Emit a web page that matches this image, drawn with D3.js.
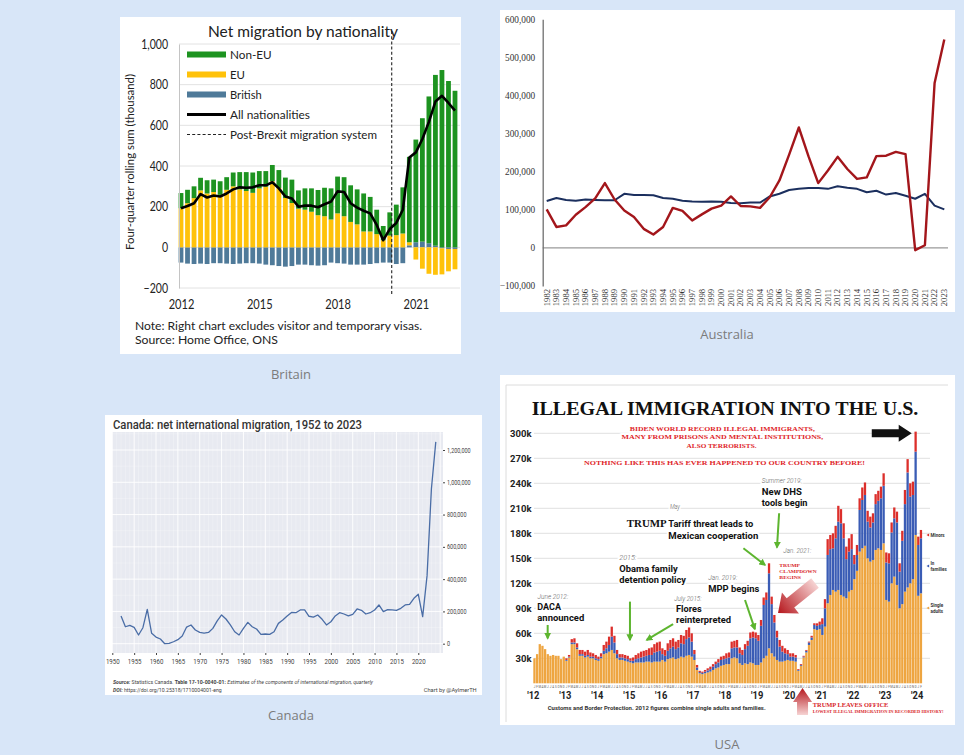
<!DOCTYPE html>
<html>
<head>
<meta charset="utf-8">
<script src="https://cdn.jsdelivr.net/npm/d3@7"></script>
<style>
  body { margin: 0; background: #d8e6f8; }
  svg { display: block; }
  .halo { paint-order: stroke; stroke: #fff; stroke-width: 4px; stroke-linejoin: round; }
</style>
</head>
<body>
<svg id="chart" width="964" height="755"></svg>
<script>
// ---------------- data ----------------
// Britain, quarterly from 2012, thousands
var ukTickIndex = [0, 12, 24, 36];
var ukTickLabels = ["2012", "2015", "2018", "2021"];
var ukYTicks = [-200, 0, 200, 400, 600, 800, 1000];
var ukNonEU = [75, 66, 58, 62, 65, 61, 67, 62, 68, 85, 93, 100, 85, 77, 80, 88, 100, 115, 90, 105, 115, 124, 140, 153, 181, 192, 180, 172, 187, 170, 120, 70, 114, 150, 227, 420, 505, 607, 722, 840, 872, 818, 770];
var ukEU = [192, 217, 242, 280, 265, 272, 258, 283, 300, 285, 277, 268, 290, 298, 325, 292, 243, 218, 190, 185, 175, 158, 153, 137, 167, 153, 125, 113, 78, 78, 65, 35, 58, 60, 68, 15, -60, -105, -130, -135, -128, -110, -100];
var ukBritish = [-75, -80, -82, -80, -82, -78, -78, -80, -82, -80, -78, -78, -80, -85, -88, -92, -95, -92, -85, -85, -88, -90, -88, -75, -78, -80, -85, -85, -85, -82, -78, -75, -75, -82, -78, 10, 25, 28, 20, 8, -5, -8, -8];
var ukAll = [192, 203, 217, 262, 245, 255, 250, 265, 285, 295, 293, 295, 305, 305, 320, 290, 250, 240, 200, 205, 205, 197, 212, 225, 275, 272, 217, 195, 180, 167, 110, 35, 90, 120, 185, 442, 467, 533, 617, 717, 745, 710, 672];

// Australia, yearly, thousands
var auYears = d3.range(1982, 2024);
var auYTicks = [-100, 0, 100, 200, 300, 400, 500, 600];
var auRed = [101, 55, 59, 87, 107, 130, 170, 127, 98, 81, 50, 35, 55, 105, 97, 72, 88, 103, 111, 135, 110, 109, 105, 133, 177, 245, 316, 240, 170, 203, 239, 207, 181, 185, 241, 242, 252, 246, -6, 7, 433, 547];
var auNavy = [123, 131, 126, 124, 127, 126, 125, 125, 142, 139, 139, 138, 131, 129, 124, 122, 121, 122, 121, 118, 117, 119, 119, 135, 142, 152, 155, 157, 157, 155, 162, 158, 155, 146, 150, 140, 144, 137, 129, 142, 111, 101];

// Canada, yearly 1952-2024, thousands
var caYears = d3.range(1952, 2025);
var caXTicks = d3.range(1950, 2021, 5);
var caYTicks = [0, 200, 400, 600, 800, 1000, 1200];
var caNet = [172, 105, 114, 101, 54, 99, 213, 64, 41, 29,
  0, 2, 12, 25, 48, 103, 116, 85, 70, 66,
  70, 95, 141, 178, 153, 116, 74, 54, 95, 132,
  105, 91, 58, 60, 58, 74, 126, 147, 172, 194,
  192, 209, 209, 170, 165, 178, 151, 116, 136, 172,
  192, 184, 172, 182, 215, 207, 184, 192, 209, 240,
  199, 211, 209, 207, 219, 240, 244, 281, 306, 168,
  420, 960, 1250];

// USA, monthly Jan 2012 - Feb 2024, thousands
var usYearLabels = ["'12", "'13", "'14", "'15", "'16", "'17", "'18", "'19", "'20", "'21", "'22", "'23", "'24"];
var usMonthLetters = "JFMAMJJASOND".split("");
var usYTicks = [30, 60, 90, 120, 150, 180, 210, 240, 270, 300];
var usSingle = [
  30, 35, 47, 45, 41, 35, 33, 34, 33, 33, 29, 32,
  27, 31, 47, 47, 41, 33, 33, 31, 32, 30, 30, 28,
  27, 30, 35, 36, 38, 40, 36, 30, 28, 28, 27, 26,
  25, 24, 25, 25, 25, 25, 26, 26, 25, 26, 26, 26,
  28, 26, 29, 30, 31, 29, 30, 32, 31, 33, 34, 32,
  28, 16, 12, 11, 12, 13, 14, 16, 18, 19, 21, 22,
  23, 23, 30, 31, 30, 24, 22, 24, 23, 25, 24, 22,
  22, 25, 30, 33, 42, 36, 32, 28, 26, 26, 27, 28,
  27, 27, 26, 15, 21, 31, 37, 46, 52, 65, 64, 65,
  58, 68, 96, 106, 112, 110, 112, 106, 104, 102, 110, 112,
  125, 135, 158, 162, 165, 150, 146, 148, 160, 162, 160, 168,
  100, 98, 120, 128, 118, 90, 95, 110, 115, 120, 125, 178,
  105, 108];
var usFamily = [
  0, 0, 0, 0, 0, 0, 0, 0, 0, 0, 0, 0,
  1, 1, 2, 2, 2, 2, 2, 2, 2, 2, 2, 2,
  2, 2, 4, 6, 8, 16, 13, 5, 3, 3, 3, 3,
  2, 3, 4, 5, 6, 7, 7, 8, 9, 11, 12, 13,
  7, 7, 10, 12, 13, 12, 13, 16, 16, 20, 21, 18,
  7, 3, 1.5, 1.5, 2, 2.5, 3, 4, 5, 6, 7, 7,
  7, 8, 12, 12, 13, 12, 12, 17, 22, 29, 31, 32,
  29, 44, 64, 67, 90, 59, 41, 27, 18, 12, 9, 7,
  5, 5, 5, 1, 1, 1, 2, 3, 3, 5, 5, 5,
  13, 22, 58, 55, 50, 64, 82, 86, 70, 47, 48, 49,
  18, 19, 50, 58, 61, 44, 41, 45, 55, 57, 62, 69,
  45, 46, 61, 70, 75, 44, 76, 105, 138, 104, 101, 100,
  61, 66];
var usMinors = [
  0, 0, 0, 0, 0, 0, 0, 0, 0, 0, 0, 0,
  2, 2, 4, 5, 5, 5, 5, 5, 6, 5, 4, 4,
  3, 4, 7, 8, 10, 12, 8, 5, 4, 4, 4, 4,
  3, 4, 5, 6, 7, 7, 7, 8, 9, 10, 11, 11,
  7, 7, 9, 10, 10, 9, 9, 10, 10, 11, 12, 10,
  5, 3, 1.5, 1.5, 2, 2.5, 3, 3, 3, 4, 4, 4,
  6, 6, 8, 8, 9, 7, 6, 6, 6, 7, 7, 7,
  7, 7, 9, 9, 12, 9, 9, 8, 8, 7, 6, 5,
  4, 4, 3, 1, 1, 1, 1, 1, 2, 2, 3, 4,
  7, 11, 19, 17, 18, 15, 19, 17, 18, 15, 16, 18,
  11, 12, 14, 15, 15, 13, 13, 11, 12, 12, 14, 15,
  12, 12, 12, 13, 13, 10, 12, 17, 16, 16, 16, 24,
  10, 10];

// annotations placed in data units (month index, thousands)
var usHead = [
  {t: "BIDEN WORLD RECORD ILLEGAL IMMIGRANTS,", m: 71, v: 302.8, w: 185},
  {t: "MANY FROM PRISONS AND MENTAL INSTITUTIONS,", m: 71, v: 292.8, w: 201.7},
  {t: "ALSO TERRORISTS.", m: 70.7, v: 282.7, w: 70},
  {t: "NOTHING LIKE THIS HAS EVER HAPPENED TO OUR COUNTRY BEFORE!", m: 71.8, v: 262, w: 281}
];
var usNotes = [
  {m: 1.6, v: 101.5, t: "June 2012:", s: "date", w: 30.7},
  {m: 1.5, v: 87.5, t: "DACA", s: "bold", w: 23.7},
  {m: 1.5, v: 74.5, t: "announced", s: "bold", w: 47},
  {m: 32.3, v: 148.5, t: "2015:", s: "date", w: 17},
  {m: 32.3, v: 134, t: "Obama family", s: "bold", w: 58.3},
  {m: 32.3, v: 120, t: "detention policy", s: "bold", w: 66.7},
  {m: 52.9, v: 98.5, t: "July 2015:", s: "date", w: 27.3},
  {m: 53.6, v: 86, t: "Flores", s: "bold", w: 25.7},
  {m: 53.6, v: 72, t: "reinterpreted", s: "bold", w: 55},
  {m: 65.7, v: 124.5, t: "Jan. 2019:", s: "date", w: 29},
  {m: 65.7, v: 110, t: "MPP begins", s: "bold", w: 51},
  {m: 51.3, v: 209, t: "May", s: "date", w: 10},
  {m: 35.1, v: 187, t: "TRUMP", s: "serif", w: 40},
  {m: 50.7, v: 187, t: "Tariff threat leads to", s: "bold", w: 85},
  {m: 50.7, v: 173, t: "Mexican cooperation", s: "bold", w: 90},
  {m: 85.8, v: 240.5, t: "Summer 2019:", s: "date", w: 40},
  {m: 85.8, v: 226.5, t: "New DHS", s: "bold", w: 40},
  {m: 85.8, v: 213, t: "tools begin", s: "bold", w: 45.7},
  {m: 93.9, v: 156, t: "Jan. 2021:", s: "date", w: 28},
  {m: 92.4, v: 139.5, t: "TRUMP", s: "red", w: 20.7},
  {m: 92.4, v: 132.3, t: "CLAMPDOWN", s: "red", w: 37.3},
  {m: 92.4, v: 125.1, t: "BEGINS", s: "red", w: 21.7}
];
var usGreenArrows = [
  {m1: 5.4, v1: 70, m2: 5.4, v2: 54},
  {m1: 36.3, v1: 98, m2: 36.3, v2: 52},
  {m1: 52.5, v1: 71, m2: 42.6, v2: 52},
  {m1: 79.5, v1: 100, m2: 83.2, v2: 65},
  {m1: 78.9, v1: 162, m2: 87, v2: 142},
  {m1: 92.3, v1: 204, m2: 91.5, v2: 163}
];

// ---------------- helpers ----------------
var svg = d3.select("#chart");

function fit(sel, w) {
  sel.attr("textLength", w).attr("lengthAdjust", "spacingAndGlyphs");
}

function condense(sel, k) {
  sel.each(function () {
    var n = this.getComputedTextLength();
    if (n > 0) d3.select(this).attr("textLength", n * k).attr("lengthAdjust", "spacingAndGlyphs");
  });
}

// block arrow drawn along its own axis, then turned into place
function blockArrow(g, x1, y1, x2, y2, bodyW, headW, headL, fill) {
  var dx = x2 - x1, dy = y2 - y1;
  var len = Math.sqrt(dx * dx + dy * dy);
  var ang = Math.atan2(dy, dx) * 180 / Math.PI;
  var pts = [[0, -bodyW / 2], [len - headL, -bodyW / 2], [len - headL, -headW / 2], [len, 0],
    [len - headL, headW / 2], [len - headL, bodyW / 2], [0, bodyW / 2]];
  g.append("polygon")
    .attr("points", pts.map(function (p) { return p.join(","); }).join(" "))
    .attr("transform", "translate(" + x1 + "," + y1 + ") rotate(" + ang + ")")
    .attr("fill", fill);
}

var defs = svg.append("defs");
var grad = defs.append("linearGradient").attr("id", "redfade").attr("x1", 0).attr("x2", 1).attr("y1", 0).attr("y2", 0);
grad.append("stop").attr("offset", "0%").attr("stop-color", "#f6d3d3");
grad.append("stop").attr("offset", "100%").attr("stop-color", "#b5161c");
defs.append("marker").attr("id", "greenhead")
  .attr("viewBox", "0 0 10 10").attr("refX", 8).attr("refY", 5)
  .attr("markerWidth", 7).attr("markerHeight", 7).attr("markerUnits", "userSpaceOnUse")
  .attr("orient", "auto")
  .append("path").attr("d", "M0,0 L10,5 L0,10 Z").attr("fill", "#5db52f");

svg.append("rect").attr("width", 964).attr("height", 755).attr("fill", "#d8e6f8");

// captions under each chart
var captionFont = "'Open Sans', 'Noto Sans', sans-serif";
[["Britain", 291, 378.5], ["Australia", 727, 339], ["Canada", 291, 720], ["USA", 727, 749]].forEach(function (c) {
  svg.append("text").attr("x", c[1]).attr("y", c[2]).attr("text-anchor", "middle")
    .attr("font-family", captionFont).attr("font-size", 13).attr("fill", "#7b7b7b").text(c[0]);
});

// ---------------- Britain ----------------
var ukFont = "Lato, 'Open Sans', sans-serif";
var uk = svg.append("g").attr("font-family", ukFont);
uk.append("rect").attr("x", 120).attr("y", 17).attr("width", 341).attr("height", 337).attr("fill", "#fff");

var ukX = d3.scaleLinear().domain([0, ukNonEU.length - 1]).range([181, 455]);
var ukY = d3.scaleLinear().domain([-200, 1000]).range([288, 44]);

uk.append("g").selectAll("line").data(ukYTicks).join("line")
  .attr("x1", 179).attr("x2", 460)
  .attr("y1", function (d) { return ukY(d); }).attr("y2", function (d) { return ukY(d); })
  .attr("stroke", "#e2e2e2");

var ukRows = ukNonEU.map(function (v, i) {
  return {i: i, british: ukBritish[i], eu: ukEU[i], nonEU: v};
});
var ukStack = d3.stack().keys(["british", "eu", "nonEU"]).offset(d3.stackOffsetDiverging)(ukRows);
var ukColor = {nonEU: "#1d9320", eu: "#ffc20a", british: "#4f7a99"};

uk.append("g").selectAll("g").data(ukStack).join("g")
  .attr("fill", function (s) { return ukColor[s.key]; })
  .selectAll("rect").data(function (s) { return s; }).join("rect")
  .attr("x", function (d) { return ukX(d.data.i) - 2.4; })
  .attr("width", 4.8)
  .attr("y", function (d) { return ukY(Math.max(d[0], d[1])); })
  .attr("height", function (d) { return Math.abs(ukY(d[0]) - ukY(d[1])); });

uk.append("line")
  .attr("x1", ukX(32.3)).attr("x2", ukX(32.3)).attr("y1", 31).attr("y2", 296)
  .attr("stroke", "#222").attr("stroke-width", 1.1).attr("stroke-dasharray", "3,2.2");

uk.append("path").datum(ukAll)
  .attr("fill", "none").attr("stroke", "#000").attr("stroke-width", 2.6)
  .attr("stroke-linejoin", "round")
  .attr("d", d3.line().x(function (d, i) { return ukX(i); }).y(function (d) { return ukY(d); }));

var ukYAxis = uk.append("g").attr("transform", "translate(179,0)")
  .call(d3.axisLeft(ukY).tickValues(ukYTicks).tickFormat(d3.format(",")).tickSize(0).tickSizeOuter(0).tickPadding(11));
ukYAxis.attr("font-family", ukFont).attr("font-size", 13.5).attr("color", "#222");
ukYAxis.select(".domain").attr("stroke", "#c4c4c4");
condense(ukYAxis.selectAll("text"), 0.78);

var ukXAxis = uk.append("g").attr("transform", "translate(0,288)")
  .call(d3.axisBottom(ukX).tickValues(ukTickIndex)
    .tickFormat(function (d, i) { return ukTickLabels[i]; }).tickSize(0).tickPadding(11));
ukXAxis.attr("font-family", ukFont).attr("font-size", 13.5).attr("color", "#222");
ukXAxis.select(".domain").remove();
condense(ukXAxis.selectAll("text"), 0.82);

uk.append("text").attr("x", 208).attr("y", 37).attr("font-size", 16).attr("fill", "#222")
  .text("Net migration by nationality").call(fit, 190);

uk.append("text").attr("transform", "translate(134,162) rotate(-90)").attr("text-anchor", "middle")
  .attr("font-size", 11.5).attr("fill", "#222")
  .text("Four-quarter rolling sum (thousand)").call(fit, 176);

var ukLegend = [
  {t: "Non-EU", k: "nonEU", w: 41.7},
  {t: "EU", k: "eu", w: 15},
  {t: "British", k: "british", w: 31.7},
  {t: "All nationalities", k: "line", w: 80},
  {t: "Post-Brexit migration system", k: "dash", w: 147}
];
ukLegend.forEach(function (d, i) {
  var by = 58.5 + i * 20;
  if (d.k === "line") {
    uk.append("line").attr("x1", 187).attr("x2", 226).attr("y1", by - 4).attr("y2", by - 4)
      .attr("stroke", "#000").attr("stroke-width", 3);
  } else if (d.k === "dash") {
    uk.append("line").attr("x1", 187).attr("x2", 226).attr("y1", by - 4).attr("y2", by - 4)
      .attr("stroke", "#222").attr("stroke-width", 1.1).attr("stroke-dasharray", "3,2.2");
  } else {
    uk.append("rect").attr("x", 187).attr("y", by - 7).attr("width", 39).attr("height", 6)
      .attr("fill", ukColor[d.k]);
  }
  uk.append("text").attr("x", 230).attr("y", by).attr("font-size", 12).attr("fill", "#222")
    .text(d.t).call(fit, d.w);
});

uk.append("text").attr("x", 135).attr("y", 330).attr("font-size", 12).attr("fill", "#222")
  .text("Note: Right chart excludes visitor and temporary visas.").call(fit, 287);
uk.append("text").attr("x", 135).attr("y", 344).attr("font-size", 12).attr("fill", "#222")
  .text("Source: Home Office, ONS").call(fit, 143);

// ---------------- Australia ----------------
var auFont = "'Liberation Serif', 'DejaVu Serif', serif";
var au = svg.append("g").attr("font-family", auFont);
au.append("rect").attr("x", 500).attr("y", 10).attr("width", 455).attr("height", 302).attr("fill", "#fff");

var auX = d3.scalePoint().domain(auYears).range([546.7, 944.3]);
var auY = d3.scaleLinear().domain([-100, 600]).range([286, 19.3]);

au.append("line").attr("x1", 542.7).attr("x2", 948).attr("y1", auY(0)).attr("y2", auY(0))
  .attr("stroke", "#9a9a9a").attr("stroke-width", 1.2);

var auYAxis = au.append("g").attr("transform", "translate(542.7,0)")
  .call(d3.axisLeft(auY).tickValues(auYTicks)
    .tickFormat(function (d) { return d3.format(",")(d * 1000); })
    .tickSize(0).tickSizeOuter(0).tickPadding(7.5));
auYAxis.attr("font-family", auFont).attr("font-size", 9.3).attr("color", "#333");
auYAxis.select(".domain").attr("stroke", "#6f6f6f").attr("stroke-width", 1.3);

au.append("g").selectAll("text").data(auYears).join("text")
  .attr("transform", function (d) { return "translate(" + auX(d) + ",289) rotate(-90)"; })
  .attr("text-anchor", "end").attr("dy", "0.33em")
  .attr("font-size", 8.6).attr("fill", "#333")
  .text(function (d) { return d; });

var auLine = d3.line().x(function (d, i) { return auX(auYears[i]); }).y(function (d) { return auY(d); });
au.append("path").datum(auNavy).attr("fill", "none").attr("stroke", "#1b2f5e")
  .attr("stroke-width", 2).attr("stroke-linejoin", "round").attr("d", auLine);
au.append("path").datum(auRed).attr("fill", "none").attr("stroke", "#a3161b")
  .attr("stroke-width", 2.4).attr("stroke-linejoin", "round").attr("d", auLine);

// ---------------- Canada ----------------
var caFont = "Roboto, 'Noto Sans', sans-serif";
var ca = svg.append("g").attr("font-family", caFont);
ca.append("rect").attr("x", 105).attr("y", 415).attr("width", 377).attr("height", 280).attr("fill", "#fff");

var caX = d3.scaleLinear().domain([1950, 2020]).range([112.3, 418.3]);
var caY = d3.scaleLinear().domain([0, 1200]).range([643.7, 450]);

ca.append("rect").attr("x", 112).attr("y", 432).attr("width", 331).attr("height", 221).attr("fill", "#e8eaf1");

ca.append("g").selectAll("line").data(d3.range(1950, 2026)).join("line")
  .attr("x1", function (d) { return caX(d); }).attr("x2", function (d) { return caX(d); })
  .attr("y1", 432).attr("y2", 653)
  .attr("stroke", "#fff").attr("stroke-width", function (d) { return d % 5 === 0 ? 0.9 : 0.35; })
  .attr("stroke-opacity", function (d) { return d % 5 === 0 ? 1 : 0.7; });
ca.append("g").selectAll("line").data(d3.range(0, 1301, 100)).join("line")
  .attr("x1", 112).attr("x2", 443)
  .attr("y1", function (d) { return caY(d); }).attr("y2", function (d) { return caY(d); })
  .attr("stroke", "#fff").attr("stroke-width", function (d) { return d % 200 === 0 ? 0.9 : 0.35; })
  .attr("stroke-opacity", function (d) { return d % 200 === 0 ? 1 : 0.7; });

ca.append("path").datum(caNet).attr("fill", "none").attr("stroke", "#4a6da6")
  .attr("stroke-width", 1.3).attr("stroke-linejoin", "round")
  .attr("d", d3.line().x(function (d, i) { return caX(caYears[i]); }).y(function (d) { return caY(d); }));

var caYAxis = ca.append("g").attr("transform", "translate(443,0)")
  .call(d3.axisRight(caY).tickValues(caYTicks)
    .tickFormat(function (d) { return d3.format(",")(d * 1000); })
    .tickSize(2).tickSizeOuter(0).tickPadding(2));
caYAxis.attr("font-family", caFont).attr("font-size", 6.5).attr("color", "#444");
caYAxis.select(".domain").remove();
condense(caYAxis.selectAll("text"), 0.84);

var caXAxis = ca.append("g").attr("transform", "translate(0,653)")
  .call(d3.axisBottom(caX).tickValues(caXTicks).tickFormat(d3.format("d")).tickSize(2).tickPadding(4));
caXAxis.attr("font-family", caFont).attr("font-size", 6.8).attr("color", "#444");
caXAxis.select(".domain").remove();
condense(caXAxis.selectAll("text"), 0.9);

ca.append("text").attr("x", 113).attr("y", 428.5).attr("font-size", 12.5).attr("font-weight", 500)
  .attr("fill", "#333").text("Canada: net international migration, 1952 to 2023").call(fit, 249);

var caSrc = ca.append("text").attr("x", 113).attr("y", 683.7).attr("font-size", 4.6).attr("fill", "#444");
caSrc.append("tspan").attr("font-weight", 700).attr("font-style", "italic").text("Source: ");
caSrc.append("tspan").text("Statistics Canada. ");
caSrc.append("tspan").attr("font-weight", 700).text("Table 17-10-0040-01: ");
caSrc.append("tspan").attr("font-style", "italic").text("Estimates of the components of international migration, quarterly");
caSrc.call(fit, 260);
var caDoi = ca.append("text").attr("x", 113).attr("y", 691.5).attr("font-size", 4.6).attr("fill", "#444");
caDoi.append("tspan").attr("font-weight", 700).attr("font-style", "italic").text("DOI: ");
caDoi.append("tspan").text("https://doi.org/10.25318/1710004001-eng");
caDoi.call(fit, 108.7);
ca.append("text").attr("x", 476.7).attr("y", 691.5).attr("text-anchor", "end").attr("font-size", 4.6)
  .attr("fill", "#444").text("Chart by @AylmerTH").call(fit, 53);

// ---------------- USA ----------------
var usSans = "Roboto, 'Liberation Sans', sans-serif";
var usSerif = "'Liberation Serif', 'DejaVu Serif', serif";
var us = svg.append("g").attr("font-family", usSans);
us.append("rect").attr("x", 500).attr("y", 375).attr("width", 455).attr("height", 350).attr("fill", "#fff");
us.append("path").attr("d", "M506,722V385H948").attr("fill", "none").attr("stroke", "#dcdcdc").attr("stroke-width", 1);

var usX = d3.scaleBand().domain(d3.range(usSingle.length)).range([533.3, 922.1]).paddingInner(0.14);
var usXl = d3.scaleLinear().domain([0, usSingle.length]).range([533.3, 922.1]);
var usY = d3.scaleLinear().domain([0, 300]).range([683.3, 433.3]);

us.append("g").selectAll("line").data(usYTicks).join("line")
  .attr("x1", 534).attr("x2", 930)
  .attr("y1", function (d) { return usY(d); }).attr("y2", function (d) { return usY(d); })
  .attr("stroke", "#dddddd").attr("stroke-width", 0.9);

var usRows = usSingle.map(function (v, i) {
  return {i: i, single: v, family: usFamily[i], minors: usMinors[i]};
});
var usStack = d3.stack().keys(["single", "family", "minors"])(usRows);
var usColor = {single: "#eea540", family: "#3a5cb5", minors: "#dc2f2b"};

us.append("g").selectAll("g").data(usStack).join("g")
  .attr("fill", function (s) { return usColor[s.key]; })
  .selectAll("rect").data(function (s) { return s; }).join("rect")
  .attr("x", function (d) { return usX(d.data.i); })
  .attr("width", usX.bandwidth())
  .attr("y", function (d) { return usY(d[1]); })
  .attr("height", function (d) { return usY(d[0]) - usY(d[1]); });

var usYAxis = us.append("g").attr("transform", "translate(534,0)")
  .call(d3.axisLeft(usY).tickValues(usYTicks).tickFormat(function (d) { return d + "k"; })
    .tickSize(0).tickPadding(2.5));
usYAxis.attr("font-family", usSans).attr("font-size", 9.5).attr("font-weight", 700).attr("color", "#222");
usYAxis.select(".domain").remove();

// month letters and year labels
us.append("g").selectAll("text").data(usRows).join("text")
  .attr("x", function (d) { return usX(d.i) + usX.bandwidth() / 2; })
  .attr("y", 688).attr("text-anchor", "middle")
  .attr("font-size", 2.9).attr("fill", "#555")
  .text(function (d) { return usMonthLetters[d.i % 12]; });
us.append("g").selectAll("text").data(usYearLabels).join("text")
  .attr("x", function (d, i) { return usX(i * 12); })
  .attr("y", 698.5).attr("text-anchor", "middle")
  .attr("font-size", 11).attr("font-weight", 700).attr("fill", "#222")
  .text(function (d) { return d; })
  .call(condense, 0.85);

// headline
us.append("text").attr("x", 531.7).attr("y", 415).attr("font-family", usSerif)
  .attr("font-size", 19.5).attr("font-weight", 700).attr("fill", "#111")
  .text("ILLEGAL IMMIGRATION INTO THE U.S.").call(fit, 386.7);

us.append("g").selectAll("text").data(usHead).join("text")
  .attr("class", "halo")
  .attr("x", function (d) { return usXl(d.m); }).attr("y", function (d) { return usY(d.v); })
  .attr("text-anchor", "middle").attr("font-family", usSerif)
  .attr("font-size", 6.6).attr("font-weight", 700).attr("fill", "#e0262a")
  .text(function (d) { return d.t; })
  .each(function (d) { d3.select(this).call(fit, d.w); });

var noteStyle = {
  date: {font: usSans, size: 6.6, weight: 300, style: "italic", fill: "#666"},
  bold: {font: usSans, size: 9.8, weight: 700, style: "normal", fill: "#111"},
  serif: {font: usSerif, size: 11, weight: 700, style: "normal", fill: "#111"},
  red: {font: usSerif, size: 5, weight: 700, style: "normal", fill: "#d8262a"}
};
us.append("g").selectAll("text").data(usNotes).join("text")
  .attr("class", "halo")
  .attr("x", function (d) { return usXl(d.m); }).attr("y", function (d) { return usY(d.v); })
  .attr("font-family", function (d) { return noteStyle[d.s].font; })
  .attr("font-size", function (d) { return noteStyle[d.s].size; })
  .attr("font-weight", function (d) { return noteStyle[d.s].weight; })
  .attr("font-style", function (d) { return noteStyle[d.s].style; })
  .attr("fill", function (d) { return noteStyle[d.s].fill; })
  .text(function (d) { return d.t; })
  .each(function (d) { d3.select(this).call(fit, d.w); });

us.append("g").selectAll("line").data(usGreenArrows).join("line")
  .attr("x1", function (d) { return usXl(d.m1); }).attr("y1", function (d) { return usY(d.v1); })
  .attr("x2", function (d) { return usXl(d.m2); }).attr("y2", function (d) { return usY(d.v2); })
  .attr("stroke", "#5db52f").attr("stroke-width", 2).attr("marker-end", "url(#greenhead)");

blockArrow(us, usXl(127.1), usY(300), usXl(142.1), usY(300), 8, 17, 13, "#111");
blockArrow(us, usXl(105.8), usY(120.4), usXl(91.9), usY(84.4), 12, 27, 16, "url(#redfade)");
blockArrow(us, usXl(101.1), usY(-38), usXl(101.1), usY(-5.5), 11, 19, 14, "url(#redfade)");

us.append("text").attr("x", 547.7).attr("y", 710).attr("font-size", 5.6).attr("font-weight", 700)
  .attr("fill", "#333").text("Customs and Border Protection. 2012 figures combine single adults and families.")
  .call(fit, 218);
us.append("text").attr("x", 812.7).attr("y", 707.4).attr("font-family", usSerif).attr("font-size", 5.6)
  .attr("font-weight", 700).attr("fill", "#d8262a").text("TRUMP LEAVES OFFICE").call(fit, 75.7);
us.append("text").attr("x", 812.7).attr("y", 713.4).attr("font-family", usSerif).attr("font-size", 3.5)
  .attr("font-weight", 700).attr("fill", "#d8262a").text("LOWEST ILLEGAL IMMIGRATION IN RECORDED HISTORY!")
  .call(fit, 130.7);

// right-hand series labels
var usKey = [
  {lines: ["Minors"], k: "minors", y: 535},
  {lines: ["In", "families"], k: "family", y: 566},
  {lines: ["Single", "adults"], k: "single", y: 608}
];
usKey.forEach(function (d) {
  us.append("path")
    .attr("d", "M926.5," + d.y + "l2.6,-1.6v3.2z")
    .attr("fill", usColor[d.k]);
  d.lines.forEach(function (t, j) {
    us.append("text").attr("x", 930.5).attr("y", d.y + 1.6 + (j - (d.lines.length - 1) / 2) * 5.8)
      .attr("font-size", 4.5).attr("font-weight", 700).attr("fill", "#333").text(t);
  });
});
</script>
</body>
</html>
